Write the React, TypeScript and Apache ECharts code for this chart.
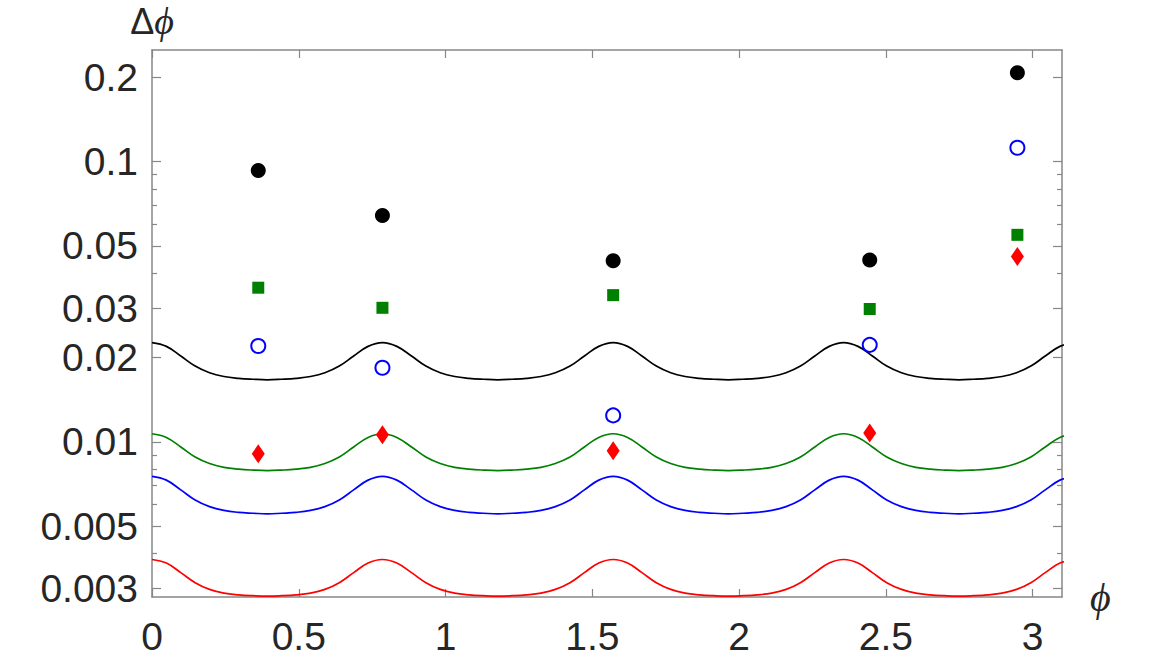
import React, { useEffect, useRef } from "react";
import * as echarts from "echarts";

// Sampling grid for the theoretical curves (phi, radians)
const PHI_GRID = [
  0, 0.049, 0.098, 0.147, 0.196, 0.245, 0.295, 0.344, 0.393, 0.442, 0.491, 0.54, 0.589, 0.638, 0.687, 0.736,
  0.785, 0.834, 0.884, 0.933, 0.982, 1.031, 1.08, 1.129, 1.178, 1.227, 1.276, 1.325, 1.374, 1.424, 1.473, 1.522,
  1.571, 1.62, 1.669, 1.718, 1.767, 1.816, 1.865, 1.914, 1.963, 2.013, 2.062, 2.111, 2.16, 2.209, 2.258, 2.307,
  2.356, 2.405, 2.454, 2.503, 2.553, 2.602, 2.651, 2.7, 2.749, 2.798, 2.847, 2.896, 2.945, 2.994, 3.043, 3.093,
  3.142,
];

const CURVE_BLACK = [
  0.02262, 0.02193, 0.02026, 0.01865, 0.01765, 0.01712, 0.01687, 0.01674, 0.01666, 0.01674, 0.01687, 0.01712, 0.01765, 0.01865, 0.02026, 0.02193,
  0.02262, 0.02193, 0.02026, 0.01865, 0.01765, 0.01712, 0.01687, 0.01674, 0.01666, 0.01674, 0.01687, 0.01712, 0.01765, 0.01865, 0.02026, 0.02193,
  0.02262, 0.02193, 0.02026, 0.01865, 0.01765, 0.01712, 0.01687, 0.01674, 0.01666, 0.01674, 0.01687, 0.01712, 0.01765, 0.01865, 0.02026, 0.02193,
  0.02262, 0.02193, 0.02026, 0.01865, 0.01765, 0.01712, 0.01687, 0.01674, 0.01666, 0.01674, 0.01687, 0.01712, 0.01765, 0.01865, 0.02026, 0.02193,
  0.02262,
];

const CURVE_GREEN = [
  0.0107, 0.01038, 0.0096, 0.00884, 0.00838, 0.00812, 0.008, 0.00794, 0.00791, 0.00794, 0.008, 0.00812, 0.00838, 0.00884, 0.0096, 0.01038,
  0.0107, 0.01038, 0.0096, 0.00884, 0.00838, 0.00812, 0.008, 0.00794, 0.00791, 0.00794, 0.008, 0.00812, 0.00838, 0.00884, 0.0096, 0.01038,
  0.0107, 0.01038, 0.0096, 0.00884, 0.00838, 0.00812, 0.008, 0.00794, 0.00791, 0.00794, 0.008, 0.00812, 0.00838, 0.00884, 0.0096, 0.01038,
  0.0107, 0.01038, 0.0096, 0.00884, 0.00838, 0.00812, 0.008, 0.00794, 0.00791, 0.00794, 0.008, 0.00812, 0.00838, 0.00884, 0.0096, 0.01038,
  0.0107,
];

const CURVE_BLUE = [
  0.00754, 0.00731, 0.00675, 0.00621, 0.00588, 0.0057, 0.00561, 0.00557, 0.00554, 0.00557, 0.00561, 0.0057, 0.00588, 0.00621, 0.00675, 0.00731,
  0.00754, 0.00731, 0.00675, 0.00621, 0.00588, 0.0057, 0.00561, 0.00557, 0.00554, 0.00557, 0.00561, 0.0057, 0.00588, 0.00621, 0.00675, 0.00731,
  0.00754, 0.00731, 0.00675, 0.00621, 0.00588, 0.0057, 0.00561, 0.00557, 0.00554, 0.00557, 0.00561, 0.0057, 0.00588, 0.00621, 0.00675, 0.00731,
  0.00754, 0.00731, 0.00675, 0.00621, 0.00588, 0.0057, 0.00561, 0.00557, 0.00554, 0.00557, 0.00561, 0.0057, 0.00588, 0.00621, 0.00675, 0.00731,
  0.00754,
];

const CURVE_RED = [
  0.00381, 0.0037, 0.00342, 0.00315, 0.00298, 0.00289, 0.00285, 0.00283, 0.00282, 0.00283, 0.00285, 0.00289, 0.00298, 0.00315, 0.00342, 0.0037,
  0.00381, 0.0037, 0.00342, 0.00315, 0.00298, 0.00289, 0.00285, 0.00283, 0.00282, 0.00283, 0.00285, 0.00289, 0.00298, 0.00315, 0.00342, 0.0037,
  0.00381, 0.0037, 0.00342, 0.00315, 0.00298, 0.00289, 0.00285, 0.00283, 0.00282, 0.00283, 0.00285, 0.00289, 0.00298, 0.00315, 0.00342, 0.0037,
  0.00381, 0.0037, 0.00342, 0.00315, 0.00298, 0.00289, 0.00285, 0.00283, 0.00282, 0.00283, 0.00285, 0.00289, 0.00298, 0.00315, 0.00342, 0.0037,
  0.00381,
];

// Measured points
const PHI_POINTS = [0.362, 0.785, 1.571, 2.445, 2.948];
const PTS_BLACK = [0.0929, 0.0642, 0.0443, 0.0446, 0.2073];
const PTS_BLUE = [0.022, 0.0184, 0.01244, 0.0222, 0.112];
const PTS_GREEN = [0.0355, 0.0301, 0.0334, 0.0298, 0.0548];
const PTS_RED = [0.00907, 0.01062, 0.00931, 0.01076, 0.0459];

// Axis ticks
const X_TICKS = [0, 0.5, 1, 1.5, 2, 2.5, 3];
const Y_MAJOR = [0.003, 0.005, 0.01, 0.02, 0.03, 0.05, 0.1, 0.2];
const Y_MINOR = [0.004, 0.006, 0.007, 0.008, 0.009, 0.04, 0.06, 0.07, 0.08, 0.09];

const AXIS_GRAY = "#878787";
const TEXT = "#262626";
const SANS = "'Liberation Sans', Arial, Helvetica, sans-serif";
const SERIF = "'Liberation Serif', 'DejaVu Serif', serif";

const X_MIN = 0;
const X_MAX = 3.1;
const Y_MIN = 0.0028;
const Y_MAX = 0.25;

export default function App() {
  const ref = useRef<HTMLDivElement>(null);

  useEffect(() => {
    if (!ref.current) return;
    const chart = echarts.init(ref.current, null, { renderer: "svg" });

    const axisLine = { show: true, lineStyle: { color: AXIS_GRAY, width: 1.5 } };

    const xBase = (position: "bottom" | "top") => ({
      type: "value",
      position,
      min: X_MIN,
      max: X_MAX,
      splitLine: { show: false },
      axisLine,
      axisTick: {
        show: true,
        inside: true,
        length: 8,
        customValues: X_TICKS,
        lineStyle: { color: AXIS_GRAY, width: 1.2 },
      },
    });

    const yBase = (position: "left" | "right", values: number[], len: number, showLine: boolean) => ({
      type: "log",
      logBase: 10,
      position,
      min: Y_MIN,
      max: Y_MAX,
      splitLine: { show: false },
      axisLine: showLine ? axisLine : { show: false },
      axisTick: {
        show: true,
        inside: true,
        length: len,
        customValues: values,
        lineStyle: { color: AXIS_GRAY, width: 1.2 },
      },
      axisLabel: { show: false },
    });

    const line = (data: number[], color: string) => ({
      type: "line",
      xAxisIndex: 0,
      yAxisIndex: 0,
      data: PHI_GRID.map((x, i) => [x, data[i]]),
      showSymbol: false,
      symbol: "none",
      smooth: 0.4,
      clip: true,
      lineStyle: { color, width: 1.7 },
      z: 2,
    });

    const points = (vals: number[], extra: any) => ({
      type: "scatter",
      xAxisIndex: 0,
      yAxisIndex: 0,
      data: PHI_POINTS.map((x, i) => [x, vals[i]]),
      z: 3,
      ...extra,
    });

    chart.setOption({
      animation: false,
      backgroundColor: "#ffffff",
      grid: { left: 152, right: 111, top: 50, bottom: 75, containLabel: false, outerBoundsMode: "none" },
      xAxis: [
        {
          ...xBase("bottom"),
          axisLabel: {
            show: true,
            customValues: X_TICKS,
            formatter: (v: number) => String(v),
            fontSize: 39,
            fontFamily: SANS,
            color: TEXT,
            margin: 20,
          },
          name: "ϕ",
          nameLocation: "end",
          nameGap: 28,
          nameTextStyle: {
            fontFamily: SERIF,
            fontStyle: "italic",
            fontSize: 40,
            color: TEXT,
            align: "left",
            verticalAlign: "middle",
            padding: [14, 0, 0, 0],
          },
        },
        { ...xBase("top"), axisLabel: { show: false } },
      ],
      yAxis: [
        {
          ...yBase("left", Y_MAJOR, 9, true),
          axisLabel: {
            show: true,
            customValues: Y_MAJOR,
            formatter: (v: number) => String(v),
            fontSize: 39,
            fontFamily: SANS,
            color: TEXT,
            margin: 14,
          },
          name: "{d|Δ}{p|ϕ}",
          nameLocation: "end",
          nameGap: 8,
          nameTextStyle: {
            align: "center",
            verticalAlign: "bottom",
            lineHeight: 42,
            rich: {
              d: { fontFamily: SANS, fontSize: 36, color: TEXT, lineHeight: 42 },
              p: { fontFamily: SERIF, fontStyle: "italic", fontSize: 38, color: TEXT, lineHeight: 42 },
            },
          },
        },
        yBase("left", Y_MINOR, 5, false),
        yBase("right", Y_MAJOR, 9, true),
        yBase("right", Y_MINOR, 5, false),
      ],
      series: [
        line(CURVE_BLACK, "#000000"),
        line(CURVE_GREEN, "#008000"),
        line(CURVE_BLUE, "#0000ff"),
        line(CURVE_RED, "#ff0000"),
        points(PTS_BLACK, { symbol: "circle", symbolSize: 15, itemStyle: { color: "#000000", opacity: 1 } }),
        points(PTS_GREEN, { symbol: "rect", symbolSize: 12, itemStyle: { color: "#008000", opacity: 1 } }),
        points(PTS_BLUE, {
          symbol: "circle",
          symbolSize: 14,
          itemStyle: { color: "#ffffff", borderColor: "#0000ff", borderWidth: 2, opacity: 1 },
        }),
        points(PTS_RED, { symbol: "diamond", symbolSize: [13, 19], itemStyle: { color: "#ff0000", opacity: 1 } }),
      ],
    });

    return () => chart.dispose();
  }, []);

  return (
    <div
      ref={ref}
      style={{ position: "fixed", left: 0, top: 0, width: 1173, height: 672, background: "#ffffff" }}
    />
  );
}
